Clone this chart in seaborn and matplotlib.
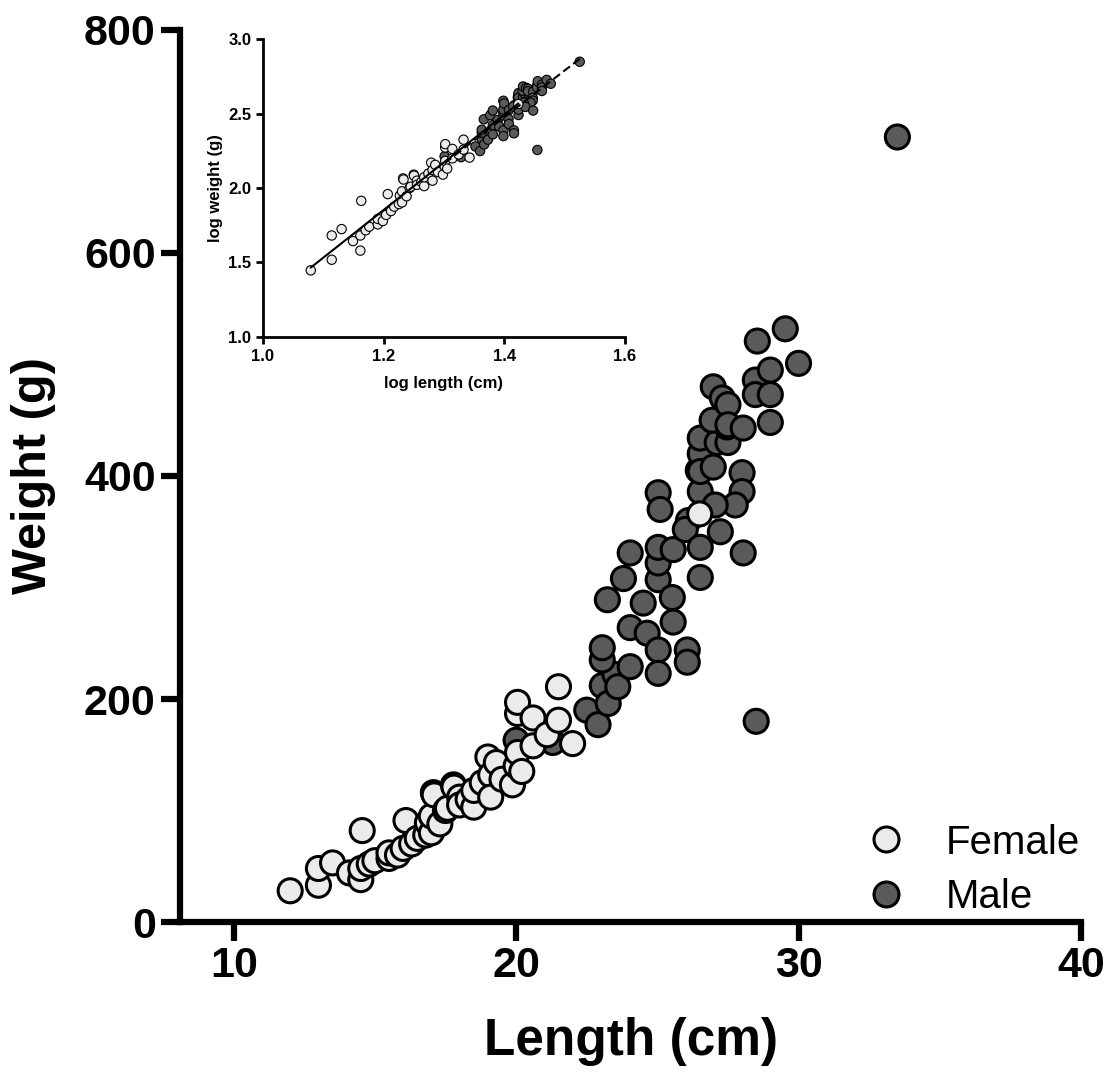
import numpy as np
import pandas as pd
import seaborn as sns
import matplotlib.pyplot as plt
from matplotlib.lines import Line2D

# Data (length in cm, weight in g)
female_length = [12.0, 13.0, 13.0, 13.5, 14.1, 14.5, 14.5, 14.55, 14.8, 15.0, 15.5, 15.5, 15.8,
                 16.0, 16.1, 16.3, 16.5, 16.8, 16.86, 17.0, 17.0, 17.07, 17.1, 17.3, 17.5, 17.57,
                 17.78, 17.8, 18.0, 18.0, 18.3, 18.5, 18.5, 18.8, 19.0, 19.1, 19.1, 19.3, 19.5,
                 19.87, 20.0, 20.05, 20.05, 20.05, 20.2, 20.6, 20.6, 21.1, 21.5, 21.5, 22.0, 26.5]
female_weight = [28, 33, 48, 53, 44, 38, 48, 82, 52, 55, 57, 62, 60,
                 66, 91, 70, 75, 78, 89, 80, 95, 116, 114, 88, 100, 102,
                 123, 121, 112, 105, 110, 103, 118, 125, 148, 132, 112, 143, 128,
                 123, 140, 152, 187, 197, 135, 158, 183, 168, 181, 211, 160, 366]

male_length = [20.0, 21.3, 22.5, 22.9, 23.05, 23.26, 23.5, 23.6, 23.05, 23.05, 23.23, 23.8,
               24.04, 24.04, 24.5, 24.64, 24.04, 25.03, 25.03, 25.03, 25.03, 25.03, 25.03, 25.1,
               25.53, 25.56, 25.56, 26.06, 26.06, 26.52, 26.1, 25.99, 26.52, 26.45, 26.52, 26.52,
               26.52, 26.52, 26.98, 27.12, 27.5, 27.47, 26.94, 26.98, 27.3, 27.5, 27.5, 28.04,
               28.0, 28.0, 27.76, 27.05, 27.23, 28.04, 28.47, 28.47, 28.54, 29.0, 29.0, 29.0,
               29.53, 30.0, 33.5, 28.5]
male_weight = [163, 161, 190, 177, 212, 196, 222, 211, 235, 246, 289, 308,
               229, 264, 286, 259, 331, 244, 223, 307, 322, 336, 385, 370,
               291, 269, 334, 244, 233, 309, 360, 352, 336, 405, 386, 420,
               434, 404, 408, 430, 430, 444, 450, 480, 470, 464, 446, 443,
               403, 386, 374, 374, 350, 331, 486, 473, 521, 495, 473, 448,
               532, 501, 704, 180]

female_color = '#EBEBEB'
male_color = '#5A5A5A'

# males first so the females sit on top, as in the original
frame = pd.DataFrame({
    'length': male_length + female_length,
    'weight': male_weight + female_weight,
    'sex': ['Male'] * len(male_length) + ['Female'] * len(female_length),
})
frame['log_length'] = np.log10(frame['length'])
frame['log_weight'] = np.log10(frame['weight'])
palette = {'Female': female_color, 'Male': male_color}

sns.set_style('ticks', rc={'axes.edgecolor': 'black', 'text.color': 'black',
                           'axes.labelcolor': 'black', 'xtick.color': 'black',
                           'ytick.color': 'black'})
plt.rcParams['font.family'] = ['Liberation Sans', 'DejaVu Sans']

fig = plt.figure(figsize=(11.12, 10.78), dpi=100)

# Main chart
ax = fig.add_axes([0.1619, 0.1447, 0.8102, 0.8275])
sns.scatterplot(data=frame, x='length', y='weight', hue='sex', palette=palette,
                s=300, edgecolor='black', linewidth=2.2, legend=False, ax=ax, zorder=3)
ax.set_xlim(8.1, 40)
ax.set_ylim(0, 800)
ax.set_xticks([10, 20, 30, 40])
ax.set_yticks([0, 200, 400, 600, 800])
for side in ['top', 'right']:
    ax.spines[side].set_visible(False)
for side in ['left', 'bottom']:
    ax.spines[side].set_linewidth(4.5)
ax.tick_params(width=4.5, length=14, labelsize=31)
for lab in ax.get_xticklabels() + ax.get_yticklabels():
    lab.set_fontweight('bold')
ax.set_xlabel('Length (cm)', fontsize=37, fontweight='bold', labelpad=22)
ax.set_ylabel('Weight (g)', fontsize=35, fontweight='bold', labelpad=20)

handles = [Line2D([], [], marker='o', ls='', markersize=18, markerfacecolor=female_color,
                  markeredgecolor='black', markeredgewidth=2.2),
           Line2D([], [], marker='o', ls='', markersize=18, markerfacecolor=male_color,
                  markeredgecolor='black', markeredgewidth=2.2)]
ax.legend(handles, ['Female', 'Male'], loc='lower right', bbox_to_anchor=(1.004, 0.117),
          bbox_transform=fig.transFigure, frameon=False, fontsize=29,
          handletextpad=0.5, labelspacing=0.4)

# Inset: log-log
ax2 = fig.add_axes([0.2365, 0.6874, 0.3255, 0.2764])
sns.scatterplot(data=frame, x='log_length', y='log_weight', hue='sex', palette=palette,
                s=45, edgecolor='black', linewidth=0.8, legend=False, ax=ax2, zorder=3)
fem = frame[frame['sex'] == 'Female']
mal = frame[frame['sex'] == 'Male']
sns.regplot(x=fem['log_length'], y=fem['log_weight'], scatter=False, ci=None, ax=ax2,
            line_kws={'color': 'black', 'lw': 1.5, 'zorder': 4})
sns.regplot(x=mal['log_length'], y=mal['log_weight'], scatter=False, ci=None, ax=ax2,
            line_kws={'color': 'black', 'lw': 1.5, 'ls': (0, (4, 2)), 'zorder': 4})
ax2.set_xlim(1.0, 1.6)
ax2.set_ylim(1.0, 3.0)
ax2.set_xticks([1.0, 1.2, 1.4, 1.6])
ax2.set_yticks([1.0, 1.5, 2.0, 2.5, 3.0])
ax2.xaxis.set_major_formatter('{x:.1f}')
ax2.yaxis.set_major_formatter('{x:.1f}')
for side in ['top', 'right']:
    ax2.spines[side].set_visible(False)
for side in ['left', 'bottom']:
    ax2.spines[side].set_linewidth(2)
ax2.tick_params(width=2, length=5, labelsize=12)
for lab in ax2.get_xticklabels() + ax2.get_yticklabels():
    lab.set_fontweight('bold')
ax2.set_xlabel('log length (cm)', fontsize=12, fontweight='bold', labelpad=9)
ax2.set_ylabel('log weight (g)', fontsize=12, fontweight='bold', labelpad=4)

fig.savefig('out.png', dpi=100)
